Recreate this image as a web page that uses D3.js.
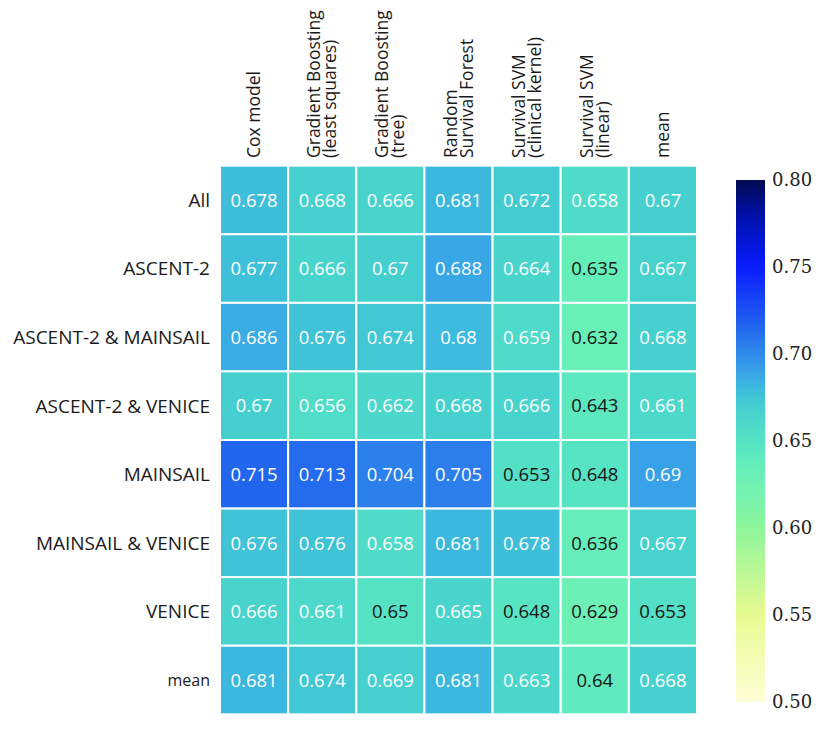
<!DOCTYPE html>
<html><head><meta charset="utf-8">
<script src="https://cdn.jsdelivr.net/npm/d3@7"></script>
<style>body{margin:0;background:#fff}
.cbt{font-family:"DejaVu Serif","Liberation Serif",serif;}
</style>
</head><body>
<svg id="c" width="819" height="738"></svg>
<script>
const rows = ["All","ASCENT-2","ASCENT-2 & MAINSAIL","ASCENT-2 & VENICE","MAINSAIL","MAINSAIL & VENICE","VENICE","mean"];
const cols = [["Cox model"],["Gradient Boosting","(least squares)"],["Gradient Boosting","(tree)"],["Random","Survival Forest"],["Survival SVM","(clinical kernel)"],["Survival SVM","(linear)"],["mean"]];
const values = [
 [0.678,0.668,0.666,0.681,0.672,0.658,0.67],
 [0.677,0.666,0.67,0.688,0.664,0.635,0.667],
 [0.686,0.676,0.674,0.68,0.659,0.632,0.668],
 [0.67,0.656,0.662,0.668,0.666,0.643,0.661],
 [0.715,0.713,0.704,0.705,0.653,0.648,0.69],
 [0.676,0.676,0.658,0.681,0.678,0.636,0.667],
 [0.666,0.661,0.65,0.665,0.648,0.629,0.653],
 [0.681,0.674,0.669,0.681,0.663,0.64,0.668]
];
const cbTicks = [0.50,0.55,0.60,0.65,0.70,0.75,0.80];
const cStops = [0.50,0.55,0.60,0.62,0.635,0.65,0.67,0.68,0.69,0.715,0.75,0.78,0.80];
const cCols = ["#ffffd8","#e8fa90","#8ef59c","#76f3b0","#66eeba","#55e3c4","#45cfcf","#3dbadd","#38a2e8","#2266ee","#0a1cff","#0010a8","#000a50"];

const svg = d3.select("#c");
const color = d3.scaleLinear().domain(cStops).range(cCols).interpolate(d3.interpolateRgb).clamp(true);
const x = d3.scaleBand().domain(d3.range(cols.length)).range([220,697]);
const y = d3.scaleBand().domain(d3.range(rows.length)).range([165.7,714.3]);
const font = "'Open Sans', sans-serif";

const cells = [];
values.forEach((r,i)=>r.forEach((v,j)=>cells.push({i,j,v})));
svg.append("g").selectAll("rect").data(cells).join("rect")
  .attr("x",d=>x(d.j)).attr("y",d=>y(d.i))
  .attr("width",x.bandwidth()).attr("height",y.bandwidth())
  .attr("fill",d=>color(d.v)).attr("stroke","#fff").attr("stroke-width",2);
svg.append("g").selectAll("text").data(cells).join("text")
  .attr("x",d=>x(d.j)+x.bandwidth()/2).attr("y",d=>y(d.i)+y.bandwidth()/2)
  .attr("dy","0.36em").attr("text-anchor","middle")
  .attr("font-family",font).attr("font-size",18.5)
  .attr("fill",d=>d.v<0.655?"#151515":"#ffffff")
  .text(d=>String(d.v));

// row labels
svg.append("g").selectAll("text").data(rows).join("text")
  .attr("x",210).attr("y",(d,i)=>y(i)+y.bandwidth()/2).attr("dy","0.36em")
  .attr("text-anchor","end").attr("font-family",font)
  .attr("font-size",(d)=>d==="mean"?16:19).attr("fill","#1a1a1a").text(d=>d);

// column labels
const cg = svg.append("g");
cols.forEach((lines,j)=>{
  const cx = x(j)+x.bandwidth()/2;
  const n = lines.length, sp = 16;
  lines.forEach((t,k)=>{
    const lx = cx + (k-(n-1)/2)*sp;
    cg.append("text").attr("transform",`translate(${lx+6},158) rotate(-90)`)
      .attr("font-family",font).attr("font-size",17.5).attr("fill","#1a1a1a").text(t);
  });
});

// colorbar
const cb = d3.scaleLinear().domain([0.5,0.8]).range([702,180]);
const grad = svg.append("defs").append("linearGradient").attr("id","g").attr("x1",0).attr("y1",1).attr("x2",0).attr("y2",0);
d3.range(0,1.0001,0.02).forEach(t=>grad.append("stop").attr("offset",t).attr("stop-color",color(0.5+0.3*t)));
svg.append("rect").attr("x",736).attr("y",180).attr("width",29).attr("height",522).attr("fill","url(#g)");
svg.append("g").selectAll("text").data(cbTicks).join("text")
  .attr("class","cbt")
  .attr("x",772).attr("y",d=>cb(d)).attr("dy","0.35em")
  .attr("font-size",18).attr("fill","#222")
  .text(d=>d.toFixed(2));
</script>
</body></html>
